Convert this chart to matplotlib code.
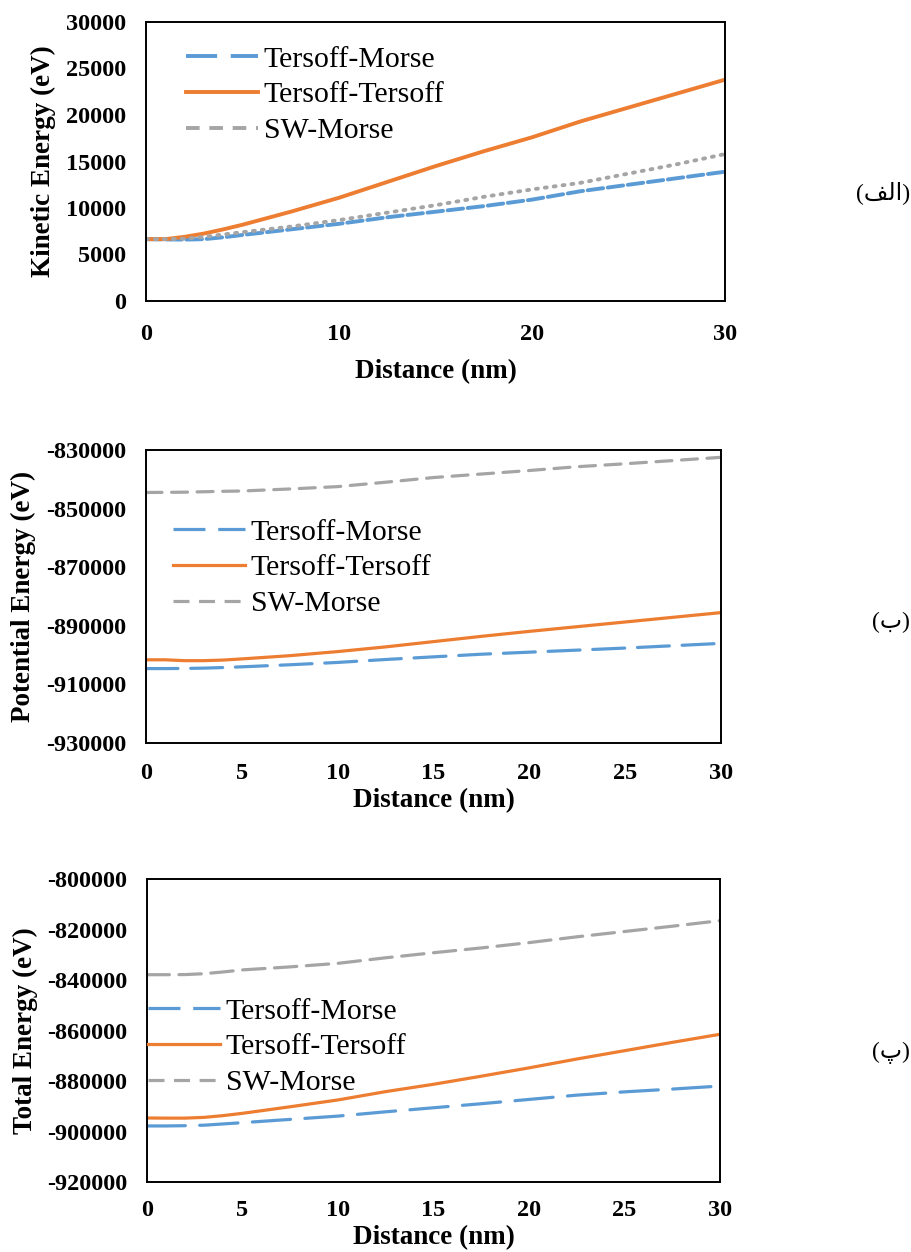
import matplotlib
matplotlib.use("Agg")
import matplotlib.pyplot as plt
import numpy as np
from matplotlib.lines import Line2D
from matplotlib.ticker import StrMethodFormatter, MultipleLocator, FixedLocator

# ---------------- data ----------------
distance = [0, 1, 2, 3, 4, 5, 7.5, 10, 12.5, 15, 17.5, 20, 22.5, 25, 27.5, 30]

series_names = ["Tersoff-Morse", "Tersoff-Tersoff", "SW-Morse"]

kinetic_tm = [6650, 6620, 6600, 6650, 6850, 7100, 7700, 8300, 9000, 9600, 10200, 10900, 11800, 12500, 13200, 13900]
kinetic_tt = [6650, 6650, 6900, 7250, 7700, 8200, 9600, 11100, 12800, 14500, 16100, 17600, 19300, 20800, 22300, 23800]
kinetic_sw = [6650, 6650, 6700, 6900, 7150, 7400, 8000, 8700, 9500, 10300, 11200, 12000, 12700, 13700, 14700, 15800]

potential_tm = [-904600, -904600, -904550, -904450, -904250, -904000, -903300, -902500, -901500, -900600, -899700, -899000, -898300, -897600, -896800, -896000]
potential_tt = [-901600, -901600, -901900, -901900, -901700, -901300, -900200, -898800, -897200, -895400, -893600, -891900, -890300, -888700, -887100, -885500]
potential_sw = [-844500, -844450, -844400, -844250, -844100, -844000, -843300, -842500, -841000, -839400, -838200, -837000, -835700, -834700, -833600, -832500]

total_tm = [-897800, -897800, -897700, -897500, -897000, -896500, -895200, -893900, -892200, -890600, -889000, -887300, -885600, -884300, -883200, -882000]
total_tt = [-894650, -894700, -894700, -894400, -893700, -892800, -890200, -887500, -884200, -881300, -878100, -874800, -871300, -868000, -864700, -861500]
total_sw = [-837900, -837900, -837850, -837500, -836800, -836000, -834800, -833400, -831200, -829200, -827300, -825200, -822900, -820800, -818700, -816500]

kinetic_yticks = [0, 5000, 10000, 15000, 20000, 25000, 30000]
potential_yticks = [-930000, -910000, -890000, -870000, -850000, -830000]
total_yticks = [-920000, -900000, -880000, -860000, -840000, -820000, -800000]

y_labels = ["Kinetic Energy (eV)", "Potential Energy (eV)", "Total Energy (eV)"]
x_label = "Distance (nm)"
# Persian panel labels, given as visual-order presentation forms
panel_tags = ["(\uFED2\uFEDF\uFE8D)", "(\uFE8F)", "(\uFB56)"]

# ---------------- style ----------------
plt.rcParams["axes.unicode_minus"] = False
plt.rcParams["font.family"] = ["Liberation Serif", "DejaVu Serif"]

BLUE, ORANGE, GRAY = "#5B9BD5", "#ED7D31", "#A5A5A5"

fig = plt.figure(figsize=(9.12, 12.52), dpi=100)
W, H = 912, 1252

def add_axes_px(left, right, top, bottom):
    return fig.add_axes([left / W, 1 - bottom / H, (right - left) / W, (bottom - top) / H])

panels = [
    dict(box=(146, 725, 22, 301), data=(kinetic_tm, kinetic_tt, kinetic_sw),
         yticks=kinetic_yticks, xstep=10, lw=2.8,
         plot_dash=[(4, 1.2), None, (0.5, 1.8)],
         leg_dash=[(8, 3.5), None, (3.5, 2.5)],
         leg_xy=(186, 95), ylab_x=43, xt_y=333, xl_y=372, tag_y=193),
    dict(box=(146, 721, 450, 743), data=(potential_tm, potential_tt, potential_sw),
         yticks=potential_yticks, xstep=5, lw=2.3,
         plot_dash=[(10, 4), None, (5, 3)],
         leg_dash=[(10, 4), None, (5, 3)],
         leg_xy=(173, 568), ylab_x=23, xt_y=772, xl_y=801, tag_y=622),
    dict(box=(147, 720, 879, 1182), data=(total_tm, total_tt, total_sw),
         yticks=total_yticks, xstep=5, lw=2.3,
         plot_dash=[(12, 4.5), None, (7, 3)],
         leg_dash=[(10, 4), None, (5, 3)],
         leg_xy=(148, 1047), ylab_x=25, xt_y=1209, xl_y=1238, tag_y=1053),
]

colors = [BLUE, ORANGE, GRAY]

for i, p in enumerate(panels):
    l, r, t, b = p["box"]
    ax = add_axes_px(l, r, t, b)
    handles = []
    for j, (vals, c) in enumerate(zip(p["data"], colors)):
        kw = dict(color=c, lw=p["lw"])
        if p["plot_dash"][j] is not None:
            kw.update(dashes=p["plot_dash"][j], dash_capstyle="round")
        else:
            kw.update(solid_capstyle="round")
        ax.plot(distance, vals, **kw)
        hk = dict(color=c, lw=p["lw"])
        if p["leg_dash"][j] is not None:
            hk.update(dashes=p["leg_dash"][j], dash_capstyle="butt")
        handles.append(Line2D([], [], **hk))

    ax.set_xlim(0, 30)
    ax.set_ylim(p["yticks"][0], p["yticks"][-1])
    ax.xaxis.set_major_locator(MultipleLocator(p["xstep"]))
    ax.yaxis.set_major_locator(FixedLocator(p["yticks"]))
    ax.yaxis.set_major_formatter(StrMethodFormatter("{x:.0f}"))
    ax.xaxis.set_major_formatter(StrMethodFormatter("{x:.0f}"))
    for s in ax.spines.values():
        s.set_linewidth(1.4)
        s.set_color("black")
    ax.tick_params(length=0, labelsize=17.5)
    ax.tick_params(axis="y", pad=14)
    xt_pad = (p["xt_y"] - b - 9) * 0.72
    ax.tick_params(axis="x", pad=xt_pad)
    for lab in ax.get_xticklabels() + ax.get_yticklabels():
        lab.set_fontweight("bold")

    ax.set_ylabel(y_labels[i], fontsize=19.5, fontweight="bold")
    ax.yaxis.label.set_va("center")
    ax.yaxis.set_label_coords((p["ylab_x"] - l) / (r - l), 0.5)
    ax.set_xlabel(x_label, fontsize=19.5, fontweight="bold")
    ax.xaxis.label.set_va("center")
    ax.xaxis.set_label_coords(0.5, (b - p["xl_y"]) / (b - t))

    lx, ly = p["leg_xy"]
    ax.legend(handles, series_names, loc="center left",
              bbox_to_anchor=((lx - l) / (r - l), (b - ly) / (b - t)),
              frameon=False, borderpad=0, borderaxespad=0,
              handlelength=2.4, handletextpad=0.2, labelspacing=0.3,
              prop=dict(family="Liberation Serif", size=21.5))

    fig.text(910 / W, 1 - p["tag_y"] / H, panel_tags[i], ha="right", va="center",
             fontsize=17, family=["Liberation Serif", "DejaVu Sans"])

fig.savefig("out.png", dpi=100)
